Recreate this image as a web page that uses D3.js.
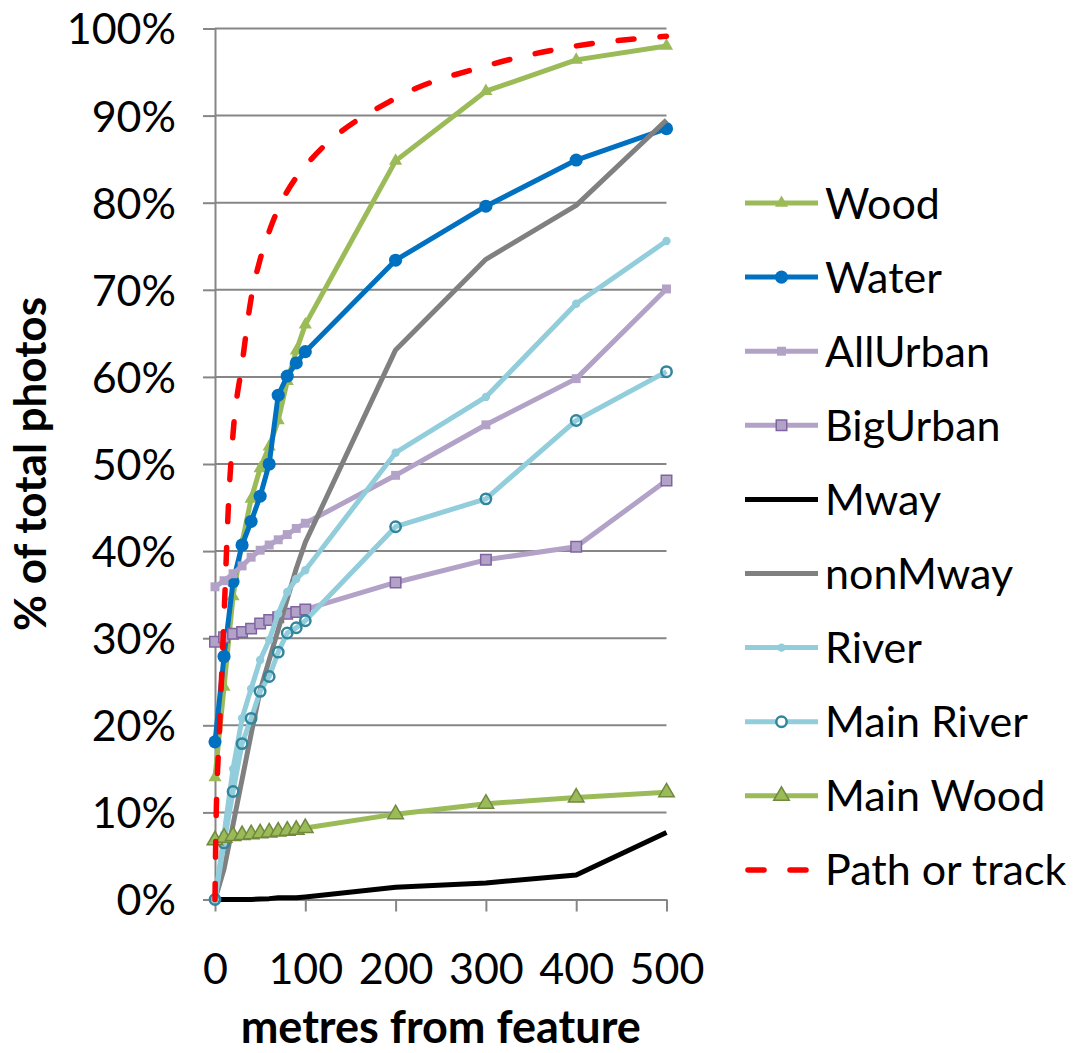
<!DOCTYPE html>
<html><head><meta charset="utf-8">
<script src="https://cdn.jsdelivr.net/npm/d3@7"></script>
<style>
body{margin:0;background:#fff}
svg{display:block}
text{font-family:Lato, "Open Sans", sans-serif; fill:#000}
</style>
</head><body>
<svg id="chart" width="1077" height="1053"></svg>
<script>
// ---- data ----
const distances = [0,10,20,30,40,50,60,70,80,90,100,200,300,400,500];
const wood      = [14.0,24.4,34.8,41.0,46.0,49.5,52.0,55.0,59.5,63.0,66.0,84.8,92.8,96.4,98.0];
const water     = [18.1,27.9,36.5,40.7,43.4,46.3,50.0,57.9,60.1,61.6,62.9,73.4,79.6,84.9,88.5];
const allUrban  = [35.9,36.6,37.4,38.3,39.3,40.1,40.7,41.3,41.9,42.6,43.2,48.7,54.5,59.8,70.1];
const bigUrban  = [29.6,30.1,30.5,30.7,31.1,31.7,32.1,32.4,32.8,33.0,33.3,36.4,39.0,40.5,48.1];
const mway      = [0,0,0,0,0,0.05,0.1,0.2,0.2,0.2,0.3,1.4,1.9,2.8,7.7];
const nonMway   = [0,3.5,8.6,13.8,19.0,24.0,27.5,31.0,34.5,38.0,41.0,63.1,73.5,79.7,89.5];
const river     = [0,7.5,15.0,20.8,24.2,27.5,29.8,32.8,35.3,36.8,37.8,51.3,57.7,68.4,75.6];
const mainRiver = [0,6.5,12.4,17.9,20.8,23.9,25.6,28.4,30.6,31.2,32.0,42.8,46.0,55.0,60.6];
const mainWood  = [6.8,7.1,7.3,7.4,7.5,7.6,7.7,7.8,7.9,8.0,8.2,9.8,11.0,11.7,12.3];
const pathDistances = [0,1,5,10,15,20,30,40,50,60,70,80,90,100,200,300,400,500];
const pathOrTrack   = [0,8,19.5,32.5,45.5,53.5,61.5,69.0,73.5,76.7,79.3,81.3,82.9,84.2,92.0,95.7,98.0,99.1];

const seriesNames = ["Wood","Water","AllUrban","BigUrban","Mway","nonMway","River","Main River","Main Wood","Path or track"];
const xTicks = [0,100,200,300,400,500];
const yTicks = [0,10,20,30,40,50,60,70,80,90,100];
const xTitle = "metres from feature";
const yTitle = "% of total photos";

// ---- styles ----
const styles = {
  "Wood":        {color:"#9BBB59", w:5, marker:d3.symbolTriangle, size:75,  fill:"#9BBB59", stroke:"none", sw:0},
  "Water":       {color:"#0070C0", w:5, marker:d3.symbolCircle,   size:135, fill:"#0070C0", stroke:"none", sw:0},
  "AllUrban":    {color:"#B3A2C7", w:5, marker:d3.symbolSquare,   size:80,  fill:"#B3A2C7", stroke:"none", sw:0},
  "BigUrban":    {color:"#B3A2C7", w:5, marker:d3.symbolSquare,   size:110, fill:"#B3A2C7", stroke:"#8064A2", sw:1.5},
  "Mway":        {color:"#000000", w:5, marker:null},
  "nonMway":     {color:"#808080", w:5, marker:null},
  "River":       {color:"#92CDDC", w:5, marker:d3.symbolCircle,   size:55,  fill:"#92CDDC", stroke:"none", sw:0},
  "Main River":  {color:"#92CDDC", w:5, marker:d3.symbolCircle,   size:85,  fill:"none", stroke:"#31859C", sw:2.5},
  "Main Wood":   {color:"#9BBB59", w:5, marker:d3.symbolTriangle, size:105, fill:"#9BBB59", stroke:"#71893F", sw:1.5},
  "Path or track":{color:"#FF0000", w:5.5, marker:null, dash:"16,26"}
};

const seriesData = [
  {name:"Wood", xs:distances, ys:wood},
  {name:"Water", xs:distances, ys:water},
  {name:"AllUrban", xs:distances, ys:allUrban},
  {name:"BigUrban", xs:distances, ys:bigUrban},
  {name:"Mway", xs:distances, ys:mway},
  {name:"nonMway", xs:distances, ys:nonMway},
  {name:"River", xs:distances, ys:river},
  {name:"Main River", xs:distances, ys:mainRiver},
  {name:"Main Wood", xs:distances, ys:mainWood},
  {name:"Path or track", xs:pathDistances, ys:pathOrTrack, smooth:true}
];

// ---- layout ----
const svg = d3.select("#chart");
const L = 215, R = 666.5, T = 28.5, B = 899.5;
const x = d3.scaleLinear().domain([0,500]).range([L,R]);
const y = d3.scaleLinear().domain([0,100]).range([B,T]);
const gridColor = "#868686";
const fs = 43;

// gridlines
svg.append("g").selectAll("line").data(yTicks.filter(d=>d>0)).join("line")
  .attr("x1", L).attr("x2", R).attr("y1", d=>y(d)).attr("y2", d=>y(d))
  .attr("stroke", gridColor).attr("stroke-width", 2);

// y axis
const yAxis = svg.append("g").attr("transform", `translate(${L},0)`)
  .call(d3.axisLeft(y).tickValues(yTicks).tickFormat(d=>d+"%").tickSize(12).tickSizeOuter(0).tickPadding(27));
yAxis.select(".domain").attr("stroke", gridColor).attr("stroke-width", 2);
yAxis.selectAll(".tick line").attr("stroke", gridColor).attr("stroke-width", 2);
yAxis.selectAll(".tick text").attr("font-size", fs).attr("dy", "0.36em").style("font-family","Lato, sans-serif").attr("fill","#000");

// x axis
const xAxis = svg.append("g").attr("transform", `translate(0,${B})`)
  .call(d3.axisBottom(x).tickValues(xTicks).tickSize(12).tickSizeOuter(0).tickPadding(42));
xAxis.select(".domain").attr("stroke", gridColor).attr("stroke-width", 2);
xAxis.selectAll(".tick line").attr("stroke", gridColor).attr("stroke-width", 2);
xAxis.selectAll(".tick text").attr("font-size", fs).style("font-family","Lato, sans-serif").attr("fill","#000");

// titles
svg.append("text").attr("x", (L+R)/2).attr("y", 1043).attr("text-anchor","middle")
  .attr("font-size", 45).attr("font-weight","bold").text(xTitle);
svg.append("text").attr("transform", `translate(46,${(T+B)/2}) rotate(-90)`).attr("text-anchor","middle")
  .attr("font-size", 44).attr("font-weight","bold").text(yTitle);

// series
const plot = svg.append("g");
seriesData.forEach(s => {
  const st = styles[s.name];
  const pts = s.xs.map((d,i)=>[d, s.ys[i]]);
  const line = d3.line().x(d=>x(d[0])).y(d=>y(d[1]))
    .curve(s.smooth ? d3.curveMonotoneX : d3.curveLinear);
  const g = plot.append("g");
  g.append("path").attr("d", line(pts)).attr("fill","none")
    .attr("stroke", st.color).attr("stroke-width", st.w)
    .attr("stroke-linejoin","round").attr("stroke-linecap", st.dash ? "round" : "butt")
    .attr("stroke-dasharray", st.dash || null);
  if (st.marker) {
    g.selectAll("path.m").data(pts).join("path").attr("class","m")
      .attr("transform", d=>`translate(${x(d[0])},${y(d[1])})`)
      .attr("d", d3.symbol().type(st.marker).size(st.size)())
      .attr("fill", st.fill).attr("stroke", st.stroke).attr("stroke-width", st.sw);
  }
});

// legend
const lg = svg.append("g");
seriesNames.forEach((name,i) => {
  const st = styles[name];
  const cy = 203 + i*74.1;
  const row = lg.append("g");
  if (st.dash) {
    row.append("line").attr("x1",748).attr("x2",815).attr("y1",cy).attr("y2",cy)
      .attr("stroke",st.color).attr("stroke-width",st.w).attr("stroke-linecap","round")
      .attr("stroke-dasharray","16,26");
  } else {
    row.append("line").attr("x1",745).attr("x2",818).attr("y1",cy).attr("y2",cy)
      .attr("stroke",st.color).attr("stroke-width",st.w);
  }
  if (st.marker) {
    row.append("path").attr("transform",`translate(781.5,${cy})`)
      .attr("d", d3.symbol().type(st.marker).size(st.size)())
      .attr("fill", st.fill === "none" ? "#fff" : st.fill).attr("stroke", st.stroke).attr("stroke-width", st.sw);
  }
  row.append("text").attr("x",825).attr("y",cy+15.5).attr("font-size",fs).text(name);
});
</script>
</body></html>
